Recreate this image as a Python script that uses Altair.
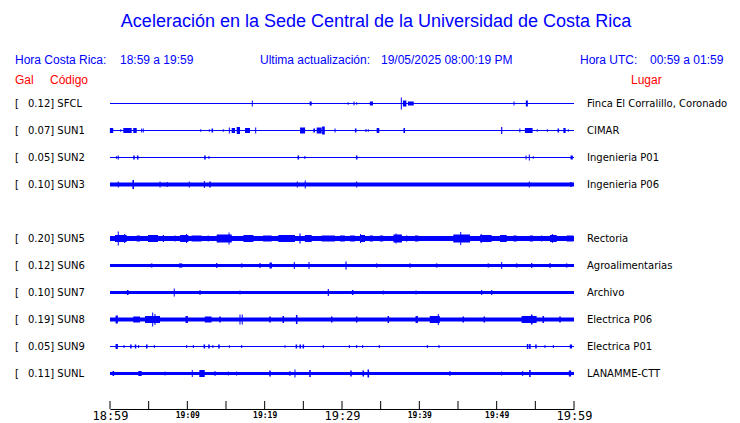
import altair as alt
import pandas as pd

# ---------------- data ----------------
codes = ["SFCL", "SUN1", "SUN2", "SUN3", "SUN5", "SUN6", "SUN7", "SUN8", "SUN9", "SUNL"]
slots = [0, 1, 2, 3, 5, 6, 7, 8, 9, 10]          # SUN4 slot is empty
peaks = [0.12, 0.07, 0.05, 0.10, 0.20, 0.12, 0.10, 0.19, 0.05, 0.11]
places = ["Finca El Corralillo, Coronado", "CIMAR", "Ingenieria P01", "Ingenieria P06",
          "Rectoria", "Agroalimentarias", "Archivo", "Electrica P06", "Electrica P01",
          "LANAMME-CTT"]
# noise-floor half amplitude of each trace (in trace units, 27 = row spacing)
noise_floor = [0.5, 0.5, 0.5, 2.0, 2.5, 1.5, 1.5, 2.0, 0.5, 1.5]

# bursts: (minute after 18:59, half amplitude, duration in minutes)
bursts = {
    "SFCL": [(18.4, 3, 0.13), (25.95, 2, 0.26), (30.8, 1.2, 0.13), (31.55, 2, 0.13),
             (31.9, 1.2, 0.13), (33.8, 2, 0.4), (37.67, 6, 0.13), (38.1, 3, 0.45),
             (38.9, 2, 0.75), (52.24, 2, 0.13), (53.9, 3, 0.26)],
    "SUN1": [(0.2, 2.5, 0.43), (1.38, 1.2, 0.13), (2.26, 2.5, 1.08), (3.23, 2.5, 0.45),
             (4.1, 2, 0.13), (4.3, 2, 0.13), (11.73, 1.2, 0.13), (12.84, 1.2, 0.13),
             (13.23, 2, 0.2), (14.65, 1.2, 0.13), (15.43, 3, 0.13), (15.95, 2.5, 0.43),
             (16.6, 3.5, 0.43), (17.78, 2.5, 0.65), (18.84, 3, 0.13), (24.9, 3, 0.65),
             (26.4, 2, 0.22), (27.05, 3, 0.65), (27.6, 4, 0.35), (29.1, 2, 0.13),
             (31.77, 2, 0.2), (33.1, 1.5, 0.13), (33.4, 1.2, 0.13), (34.65, 2.5, 0.34),
             (38.05, 2.5, 0.2), (50.65, 3.5, 0.15), (53.0, 2, 0.13), (54.15, 2.5, 1.0),
             (55.25, 1.2, 0.13), (56.55, 1.2, 0.13), (57.97, 2, 0.2), (58.77, 2.5, 0.3),
             (59.26, 1.2, 0.13)],
    "SUN2": [(0.87, 1.5, 0.13), (1.07, 2, 0.13), (3.1, 2, 0.2), (3.58, 2, 0.2),
             (12.28, 2, 0.2), (12.8, 1.5, 0.13), (24.35, 2, 0.2), (25.2, 1.5, 0.13),
             (31.9, 2, 0.2), (53.8, 2, 0.13), (54.22, 3, 0.13), (54.73, 1.2, 0.13),
             (59.7, 2, 0.3)],
    "SUN3": [(1.07, 3, 0.13), (3.0, 4.5, 0.2), (6.47, 3, 0.13), (7.4, 2.5, 0.13),
             (10.25, 3, 0.13), (12.2, 3.5, 0.13), (12.93, 3, 0.2), (24.22, 3, 0.13),
             (25.25, 4, 0.13), (31.9, 3, 0.13), (54.22, 3, 0.13), (59.6, 2.5, 0.2)],
    "SUN5": [(1.07, 7, 0.13), (1.4, 3.5, 1.5), (1.9, 4.5, 0.13), (3.67, 3, 0.43),
             (5.56, 3.5, 1.3), (6.9, 3.5, 0.15), (8.4, 3, 0.15), (9.6, 3.5, 1.07),
             (9.9, 4.5, 0.13), (11.2, 3, 1.3), (12.7, 3, 0.15), (14.77, 4, 1.94),
             (15.39, 6, 0.13), (17.9, 3.5, 1.3), (20.35, 3, 1.1), (22.84, 3.5, 2.16),
             (24.57, 5, 0.15), (25.64, 3.5, 0.87), (28.24, 3, 1.72), (30.06, 3, 0.65),
             (31.36, 3, 0.65), (32.65, 3.5, 0.65), (32.4, 4.5, 0.13), (33.8, 3, 0.43),
             (35.1, 3, 0.43), (37.2, 4, 1.1), (37.0, 5, 0.13), (38.36, 3, 0.15),
             (39.65, 3, 0.43), (45.47, 4, 2.16), (45.35, 6.5, 0.13), (48.6, 3.5, 1.5),
             (48.0, 4.5, 0.13), (50.86, 3.5, 0.87), (52.37, 3, 0.43), (54.5, 3, 0.43),
             (55.82, 3, 0.15), (57.33, 3.5, 0.87), (57.2, 4.5, 0.13), (59.48, 3, 0.87)],
    "SUN6": [(5.39, 2, 0.2), (9.05, 2.5, 0.15), (9.27, 2, 0.2), (13.8, 2.5, 0.15),
             (17.03, 2, 0.2), (19.4, 2.5, 0.15), (20.78, 3, 0.3), (23.83, 3.5, 0.13),
             (25.73, 3.5, 0.13), (30.52, 4, 0.15), (34.48, 2, 0.2), (38.8, 2, 0.2),
             (42.24, 2, 0.2), (48.92, 2, 0.2), (50.65, 3.5, 0.13), (52.59, 2, 0.2),
             (54.53, 2.5, 0.15), (56.9, 2.5, 0.15), (59.05, 2, 0.2)],
    "SUN7": [(2.29, 2.5, 0.2), (8.31, 4, 0.13), (11.64, 2.5, 0.13), (16.81, 2, 0.13),
             (28.23, 3.5, 0.15), (31.38, 2.5, 0.2), (35.34, 2, 0.13), (39.57, 2, 0.13),
             (48.06, 2.5, 0.15), (49.36, 2.5, 0.15)],
    "SUN8": [(0.87, 4, 0.3), (3.44, 3, 0.87), (5.5, 3.5, 1.94), (5.52, 7, 0.13),
             (5.82, 5.5, 0.13), (9.92, 3.5, 0.3), (12.7, 3, 0.87), (14.22, 3, 0.2),
             (16.81, 5, 0.13), (17.1, 5, 0.13), (20.69, 3, 0.2), (22.41, 3.5, 0.2),
             (24.14, 4.5, 0.2), (28.67, 3, 0.2), (31.9, 3, 0.2), (35.99, 3.5, 0.2),
             (39.66, 3.5, 0.3), (42.0, 3.5, 1.3), (42.45, 5.5, 0.13), (45.68, 3, 0.2),
             (48.4, 3, 0.2), (54.2, 3.5, 1.94), (54.53, 5, 0.2), (56.03, 3.5, 0.2),
             (58.19, 3, 0.2)],
    "SUN9": [(0.87, 2.5, 0.3), (1.81, 1.5, 0.13), (2.7, 2, 0.2), (3.3, 2, 0.2),
             (3.7, 1.5, 0.13), (4.75, 2, 0.2), (5.73, 1.5, 0.13), (9.92, 1.5, 0.13),
             (10.77, 1.5, 0.13), (12.2, 2, 0.2), (12.8, 2, 0.2), (13.3, 1.5, 0.13),
             (14.09, 2, 0.2), (15.43, 1.2, 0.13), (17.03, 1.5, 0.13), (22.63, 1.2, 0.13),
             (24.1, 2, 0.2), (24.6, 2, 0.2), (25.0, 2, 0.2), (27.58, 1.5, 0.13),
             (30.94, 1.5, 0.13), (31.9, 1.5, 0.13), (32.68, 1.5, 0.13), (34.82, 1.5, 0.13),
             (41.03, 1.5, 0.13), (42.54, 1.5, 0.13), (54.0, 2.5, 0.2), (54.3, 2.5, 0.2),
             (55.08, 2, 0.2), (56.25, 1.5, 0.13), (57.32, 1.5, 0.13), (59.6, 2, 0.3)],
    "SUNL": [(0.43, 2.5, 0.2), (3.88, 2.5, 0.43), (7.11, 2, 0.13), (10.64, 3.5, 0.13),
             (11.9, 3.5, 0.7), (13.58, 2.5, 0.13), (15.3, 2, 0.13), (16.38, 2, 0.13),
             (20.69, 3, 0.2), (23.27, 2.5, 0.13), (23.92, 4, 0.13), (25.86, 3.5, 0.2),
             (31.16, 3, 0.2), (32.75, 3, 0.2), (33.4, 4, 0.2), (43.96, 2.5, 0.13),
             (50.65, 2, 0.13), (53.36, 2.5, 0.13), (54.3, 3.5, 0.2), (59.48, 3, 0.3)],
}

tick_minutes = list(range(0, 61, 5))
label_minutes = [0, 10, 20, 30, 40, 50, 60]
tick_labels = ["18:59", "19:09", "19:19", "19:29", "19:39", "19:49", "19:59"]

title_text = "Aceleración en la Sede Central de la Universidad de Costa Rica"
hdr_cr = ("Hora Costa Rica:", "18:59 a 19:59")
hdr_upd = ("Ultima actualización:", "19/05/2025 08:00:19 PM")
hdr_utc = ("Hora UTC:", "00:59 a 01:59")

# ---------------- layout ----------------
W, H = 464, 401
ROW = 27.0
FIRST = 95.5
BLUE = "#0000ff"

yscale = alt.Scale(domain=[-FIRST / ROW, (H - FIRST) / ROW], nice=False, zero=False, reverse=True)
xscale = alt.Scale(domain=[0, 60], nice=False, zero=False)

label_expr = "[" + ",".join("'%s'" % s for s in tick_labels) + "][round(datum.value / 10)]"
xaxis = alt.Axis(values=label_minutes, labelExpr=label_expr, ticks=False, tickSize=0,
                 domain=True, domainColor="black", domainWidth=1, grid=False, title=None,
                 labelFont="DejaVu Sans Mono",
                 labelFontSize={"condition": {"test": "datum.value % 30 == 0", "value": 12}, "value": 8},
                 labelFontWeight={"condition": {"test": "datum.value % 30 == 0", "value": "normal"}, "value": "bold"},
                 labelColor="black", labelPadding=6, labelBaseline="middle",
                 labelFlush=False, labelOverlap=False)


def X(field):
    return alt.X(field, type="quantitative", scale=xscale, axis=xaxis)


def Y(field):
    return alt.Y(field, type="quantitative", scale=yscale, axis=None)


rows = []
for code, slot, base in zip(codes, slots, noise_floor):
    rows.append({"code": code, "x": 0.0, "x2": 60.0,
                 "y": slot - base / ROW, "y2": slot + base / ROW})
    for t, amp, dur in bursts[code]:
        rows.append({"code": code, "x": t - dur / 2, "x2": t + dur / 2,
                     "y": slot - amp / ROW, "y2": slot + amp / ROW})
trace_df = pd.DataFrame(rows)

traces = alt.Chart(trace_df).mark_rect(color=BLUE, strokeWidth=0).encode(
    x=X("x"), x2="x2", y=Y("y"), y2="y2")

tick_df = pd.DataFrame({"t": tick_minutes})
ticks = alt.Chart(tick_df).mark_rule(color="black", strokeWidth=1).encode(
    x=X("t"), y=alt.value(H - 8), y2=alt.value(H))

st_df = pd.DataFrame({"slot": slots, "code": codes, "place": places,
                      "lab": ["%.2f] %s" % (p, c) for p, c in zip(peaks, codes)]})
lab_font = dict(font="DejaVu Sans", fontSize=10, color="black", baseline="middle", align="left")
br = alt.Chart(st_df).mark_text(text="[", **lab_font).encode(x=alt.value(15 - 110), y=Y("slot"))
lab = alt.Chart(st_df).mark_text(**lab_font).encode(x=alt.value(28 - 110), y=Y("slot"), text="lab:N")
plc = alt.Chart(st_df).mark_text(**lab_font).encode(x=alt.value(587 - 110), y=Y("slot"), text="place:N")


def htext(txt, px, py, color=BLUE, size=12, align="left"):
    return alt.Chart(pd.DataFrame({"t": [txt]})).mark_text(
        font="Liberation Sans", fontSize=size, color=color, align=align, baseline="middle"
    ).encode(x=alt.value(px - 110), y=alt.value(py - 8), text="t:N")


headers = [
    htext(title_text, 376, 22, size=18, align="center"),
    htext(hdr_cr[0], 15, 60), htext(hdr_cr[1], 120, 60),
    htext(hdr_upd[0], 260, 60), htext(hdr_upd[1], 381, 60),
    htext(hdr_utc[0], 580, 60), htext(hdr_utc[1], 650, 60),
    htext("Gal", 15, 80, color="#ff0000"), htext("Código", 50, 80, color="#ff0000"),
    htext("Lugar", 631, 80, color="#ff0000"),
]

chart = alt.layer(traces, ticks, br, lab, plc, *headers).properties(
    width=W, height=H,
    autosize=alt.AutoSizeParams(type="none"),
    padding={"left": 102, "top": 0, "right": 158, "bottom": 14},
    background="white",
).configure_view(stroke=None)

chart.save("out.html", embed_options={"renderer": "svg", "actions": False})
